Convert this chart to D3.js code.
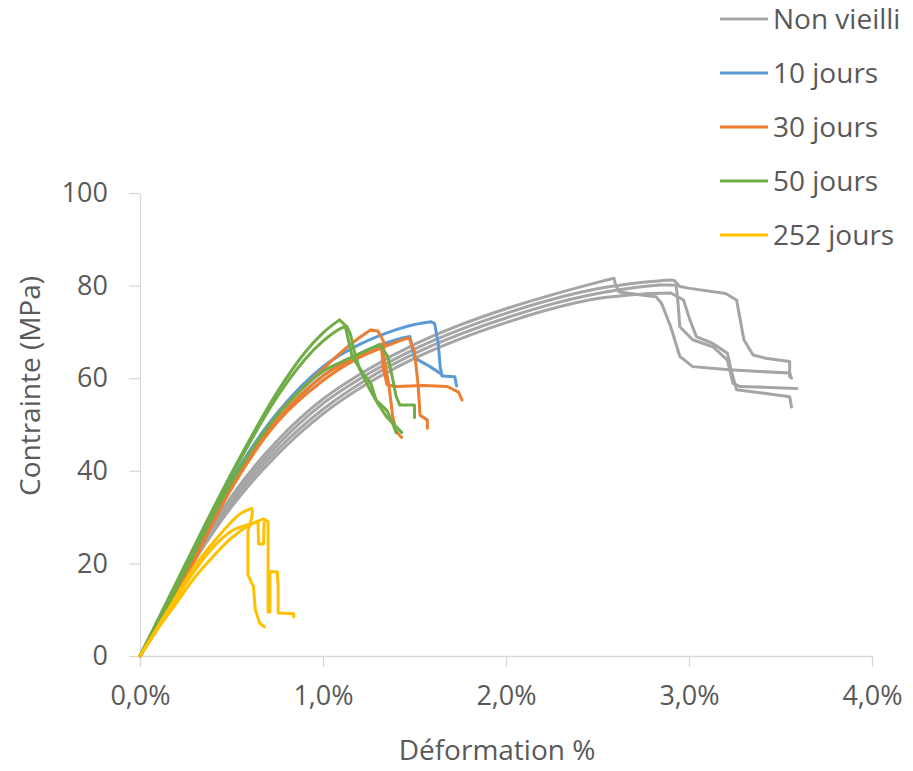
<!DOCTYPE html>
<html>
<head>
<meta charset="utf-8">
<script src="https://cdn.jsdelivr.net/npm/d3@7"></script>
<style>
  html, body { margin: 0; padding: 0; background: #ffffff; }
  svg { display: block; font-family: "Open Sans", "Noto Sans", sans-serif; }
</style>
</head>
<body>
<script>
// ---------------- DATA ----------------
const seriesNames = ["Non vieilli", "10 jours", "30 jours", "50 jours", "252 jours"];
const seriesColors = ["#a5a5a5", "#5b9bd5", "#ed7d31", "#70ad47", "#ffc000"];

const xTicks = [0, 1, 2, 3, 4];
const xTickLabels = ["0,0%", "1,0%", "2,0%", "3,0%", "4,0%"];
const yTicks = [0, 20, 40, 60, 80, 100];

// [strain %, stress MPa] for each specimen
const nonVieilli = [
  [[0,0],[0.1,7.5],[0.25,18.5],[0.5,34.5],[0.75,46.5],[1.0,55.5],[1.25,62],[1.5,67.3],[1.75,71.5],[2.0,75],[2.25,78],[2.5,80.7],[2.59,81.6],[2.60,80],[2.62,78.6],[2.75,77.9],[2.82,77.6],[2.85,76.2],[2.90,71.1],[2.95,64.7],[3.02,62.5],[3.22,61.8],[3.55,61.1],[3.56,60]],
  [[0,0],[0.1,7.4],[0.25,18.2],[0.5,33.8],[0.75,45.5],[1.0,54.5],[1.25,61],[1.5,66.3],[1.75,70.5],[2.0,74],[2.25,77],[2.5,79.3],[2.75,80.7],[2.9,81.2],[2.92,81.1],[2.95,79.8],[3.005,79.4],[3.2,78.3],[3.26,76.9],[3.28,72.6],[3.30,68.3],[3.35,65],[3.42,64.3],[3.55,63.6],[3.55,60.3]],
  [[0,0],[0.1,7.3],[0.25,17.9],[0.5,33],[0.75,44.5],[1.0,53.3],[1.25,60],[1.5,65.3],[1.75,69.5],[2.0,73],[2.25,76],[2.5,78.3],[2.75,79.8],[2.85,80.2],[2.93,80.1],[2.94,76.2],[2.95,71.1],[3.02,68.3],[3.13,66.8],[3.21,63.9],[3.24,58.9],[3.28,58.2],[3.59,57.8]],
  [[0,0],[0.1,7.2],[0.25,17.6],[0.5,32.2],[0.75,43.5],[1.0,52.3],[1.25,59],[1.5,64.3],[1.75,68.5],[2.0,72],[2.25,75],[2.5,77.2],[2.75,78.2],[2.9,78.4],[2.97,76.9],[3.005,72.6],[3.04,69],[3.13,67.5],[3.21,65.4],[3.23,61.8],[3.26,57.5],[3.42,56.7],[3.55,56],[3.56,53.8]]
];
const jours10 = [
  [[0,0],[0.1,7.5],[0.25,18.5],[0.5,38],[0.75,52.5],[1.0,62.5],[1.2,67.3],[1.4,70.5],[1.5,71.6],[1.59,72.2],[1.61,71.8],[1.63,67.5],[1.64,62.5],[1.65,60.5],[1.72,60.3],[1.73,58.3]],
  [[0,0],[0.1,7.3],[0.25,18],[0.5,37],[0.75,51],[1.0,60.5],[1.2,65.3],[1.4,68.3],[1.475,69],[1.50,64.4],[1.585,62.5],[1.65,60.8]]
];
const jours30 = [
  [[0,0],[0.1,6.5],[0.25,17.5],[0.5,37],[0.75,52],[1.0,62],[1.15,67.3],[1.26,70.4],[1.30,70.2],[1.33,68],[1.335,64],[1.36,58.5],[1.38,52],[1.40,48.5],[1.43,47.2]],
  [[0,0],[0.1,6.3],[0.25,17],[0.5,36.2],[0.75,50.5],[1.0,59.5],[1.2,64.5],[1.4,67.8],[1.47,68.7],[1.50,65.7],[1.52,58.5],[1.53,52],[1.57,51],[1.57,49.2]],
  [[0,0],[0.1,6.4],[0.25,17.2],[0.5,36.6],[0.75,51],[1.0,60.5],[1.2,64.8],[1.32,66.5],[1.33,62],[1.35,58.6],[1.40,58.2],[1.55,58.4],[1.68,58.2],[1.74,57],[1.76,55.3]]
];
const jours50 = [
  [[0,0],[0.1,8],[0.25,20],[0.5,39.5],[0.75,57],[0.9,65.5],[1.0,69.8],[1.09,72.6],[1.12,71.5],[1.14,68],[1.16,64.6],[1.22,61],[1.26,59],[1.29,55.3],[1.35,53],[1.38,50.3],[1.40,48.2]],
  [[0,0],[0.1,7.8],[0.25,19.7],[0.5,39],[0.75,56],[0.9,64],[1.0,68],[1.1,70.8],[1.13,71.2],[1.15,69.5],[1.17,66],[1.20,62],[1.25,58],[1.30,54.5],[1.35,51.5],[1.40,49.5],[1.43,48.3]],
  [[0,0],[0.1,7],[0.25,18.5],[0.5,37.5],[0.75,52],[1.0,61.5],[1.1,63.5],[1.2,65.3],[1.31,67.3],[1.355,64.6],[1.38,60],[1.40,56],[1.42,54.2],[1.50,54.2],[1.50,51.5]]
];
const jours252 = [
  [[0,0],[0.1,6.5],[0.2,13],[0.3,19.5],[0.4,24.5],[0.5,29],[0.55,30.8],[0.61,31.9],[0.615,31.2],[0.605,29],[0.59,27],[0.59,17.5],[0.62,15],[0.63,10],[0.655,7],[0.68,6.3]],
  [[0,0],[0.1,6],[0.2,11.5],[0.3,17],[0.4,21.5],[0.5,25.5],[0.6,28.3],[0.675,29.6],[0.70,29.0],[0.70,20],[0.70,9.5],[0.71,9.5],[0.71,18.2],[0.75,18.2],[0.755,15],[0.755,9.3],[0.84,9.1],[0.84,8.4]],
  [[0,0],[0.1,6.3],[0.2,12.5],[0.3,18.5],[0.4,23.5],[0.5,27],[0.6,28.5],[0.645,29],[0.648,24.2],[0.675,24.2],[0.678,28.8]]
];
const allSeries = [nonVieilli, jours10, jours30, jours50, jours252];

// ---------------- CHART ----------------
const W = 913, H = 771;
const textColor = "#595959";
const axisColor = "#d9d9d9";

const svg = d3.select("body").append("svg").attr("width", W).attr("height", H);

const x = d3.scaleLinear().domain([0, 4]).range([140, 872]);
const y = d3.scaleLinear().domain([0, 100]).range([656, 193]);

// Y axis
const yAxis = svg.append("g").attr("transform", "translate(140,0)")
  .call(d3.axisLeft(y).tickValues(yTicks).tickSize(11).tickSizeOuter(0).tickPadding(21));
// X axis
const xAxis = svg.append("g").attr("transform", "translate(0,656)")
  .call(d3.axisBottom(x).tickValues(xTicks).tickFormat((d, i) => xTickLabels[i])
    .tickSize(11).tickSizeOuter(0).tickPadding(19));

[yAxis, xAxis].forEach(g => {
  g.select(".domain").attr("stroke", axisColor).attr("stroke-width", 1.3);
  g.selectAll(".tick line").attr("stroke", axisColor).attr("stroke-width", 1.3);
  g.selectAll(".tick text").attr("fill", textColor)
    .style("font-size", "27px").style("font-family", '"Open Sans", sans-serif');
});

// Lines: smooth loading branch up to the peak, straight segments after failure
const smooth = d3.line().x(d => x(d[0])).y(d => y(d[1])).curve(d3.curveCatmullRom.alpha(0.5));
const straight = d3.line().x(d => x(d[0])).y(d => y(d[1])).curve(d3.curveLinear);
function specimenPath(pts) {
  const peak = d3.maxIndex(pts, d => d[1]);
  const a = smooth(pts.slice(0, peak + 1));
  const b = straight(pts.slice(peak));
  return a + (b ? "M" + b.slice(1) : "");
}

allSeries.forEach((series, si) => {
  svg.append("g").selectAll("path")
    .data(series)
    .join("path")
    .attr("d", specimenPath)
    .attr("fill", "none")
    .attr("stroke", seriesColors[si])
    .attr("stroke-width", 3)
    .attr("stroke-linejoin", "round")
    .attr("stroke-linecap", "round");
});

// Axis titles
svg.append("text")
  .attr("x", 497).attr("y", 760)
  .attr("text-anchor", "middle")
  .attr("fill", textColor)
  .style("font-size", "28px")
  .text("Déformation %");

svg.append("text")
  .attr("transform", "translate(40,386) rotate(-90)")
  .attr("text-anchor", "middle")
  .attr("fill", textColor)
  .style("font-size", "28px")
  .text("Contrainte (MPa)");

// Legend
const legend = svg.append("g");
seriesNames.forEach((name, i) => {
  const ly = 19 + i * 54;
  legend.append("line")
    .attr("x1", 720).attr("x2", 768)
    .attr("y1", ly).attr("y2", ly)
    .attr("stroke", seriesColors[i]).attr("stroke-width", 3);
  legend.append("text")
    .attr("x", 773).attr("y", ly)
    .attr("dy", "0.35em")
    .attr("fill", textColor)
    .style("font-size", "28px")
    .text(name);
});
</script>
</body>
</html>
